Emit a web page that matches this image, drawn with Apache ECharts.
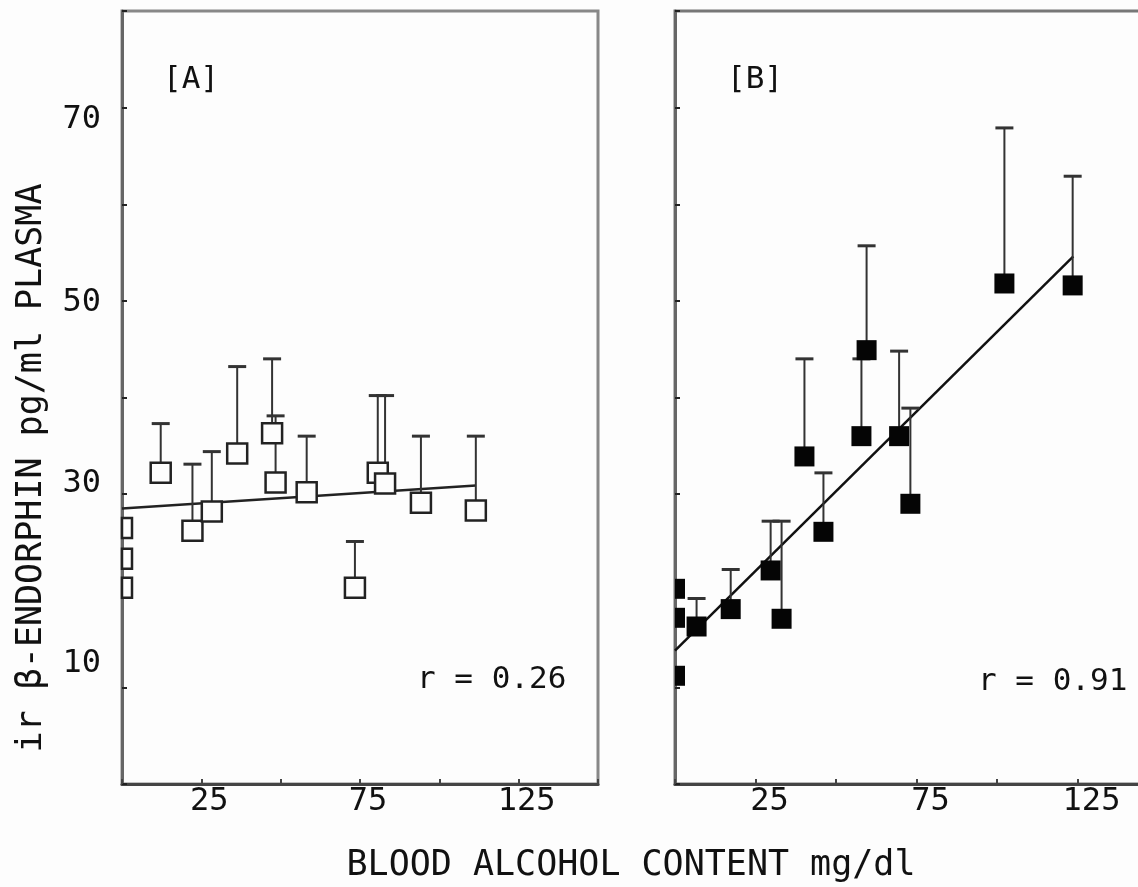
<!DOCTYPE html>
<html>
<head>
<meta charset="utf-8">
<script src="https://cdn.jsdelivr.net/npm/echarts@6/dist/echarts.min.js"></script>
<style>
  html, body { margin: 0; padding: 0; background: #fdfdfd; }
  #chart { width: 1138px; height: 887px; }
</style>
</head>
<body>
<div id="chart"></div>
<script>
// panel A: open squares
const aBAC   = [0, 0, 0, 12.2, 22.2, 28.3, 36.3, 47.3, 48.4, 58.2, 73.4, 80.6, 82.9, 94.2, 111.5];
const aMean  = [26.5, 23.3, 20.3, 32.2, 26.2, 28.2, 34.2, 36.3, 31.2, 30.2, 20.3, 32.2, 31.1, 29.1, 28.3];
const aUpper = [null, null, null, 37.3, 33.1, 34.4, 43.2, 44.0, 38.1, 36.0, 25.1, 40.2, 40.2, 36.0, 36.0];
const aFitX  = [0, 111.5];
const aFitY  = [28.5, 30.9];

// panel B: filled squares
const bBAC   = [0, 0, 0, 6.7, 17.3, 29.7, 33.1, 40.2, 46.1, 57.9, 59.5, 69.6, 73.1, 102.3, 123.5];
const bMean  = [20.2, 17.2, 11.2, 16.3, 18.1, 22.1, 17.1, 33.9, 26.1, 36.0, 44.9, 36.0, 29.0, 51.8, 51.6];
const bUpper = [null, null, null, 19.2, 22.2, 27.2, 27.2, 44.0, 32.2, 44.0, 55.7, 44.8, 38.9, 67.9, 62.9];
const bFitX  = [0, 123.7];
const bFitY  = [13.8, 54.6];

const yTickLabels = [10, 30, 50, 70];
const xTickLabels = [25, 75, 125];

const FONT = '"DejaVu Sans Mono", "Liberation Mono", monospace';
const INK = '#111';

// scanned labels sit a bit off their ticks
const yLabelShift = {
  s70: { padding: [24, 0, 0, 0] },
  s50: { padding: [4, 0, 0, 0] },
  s30: { padding: [0, 0, 20, 0] },
  s10: { padding: [0, 0, 48, 0] }
};

function zip(xs, ys) {
  return xs.map((x, i) => [x, ys[i]]);
}

function barRows(xs, ys, hs) {
  const rows = [];
  xs.forEach((x, i) => {
    if (hs[i] != null) rows.push([x, ys[i], hs[i]]);
  });
  return rows;
}

function renderErrorBar(params, api) {
  const x = api.value(0);
  const lo = api.coord([x, api.value(1)]);
  const hi = api.coord([x, api.value(2)]);
  const style = { stroke: '#333', lineWidth: 2 };
  return {
    type: 'group',
    children: [
      { type: 'line', shape: { x1: lo[0], y1: lo[1], x2: hi[0], y2: hi[1] }, style },
      { type: 'line', shape: { x1: hi[0] - 9, y1: hi[1], x2: hi[0] + 9, y2: hi[1] }, style: { stroke: '#333', lineWidth: 3 } }
    ]
  };
}

function squareRenderer(filled) {
  return function (params, api) {
    const c = api.coord([api.value(0), api.value(1)]);
    const s = 20;
    const cs = params.coordSys;
    const rect = echarts.graphic.clipRectByRect(
      { x: c[0] - s / 2, y: c[1] - s / 2, width: s, height: s },
      { x: cs.x, y: cs.y, width: cs.width, height: cs.height }
    );
    if (!rect) return;
    return {
      type: 'rect',
      shape: rect,
      style: filled
        ? { fill: '#050505' }
        : { fill: '#fdfdfd', stroke: '#222', lineWidth: 2.5 }
    };
  };
}

function xAxisOf(gridIndex, shift) {
  return {
    type: 'value',
    gridIndex,
    min: 0,
    max: 150,
    interval: 25,
    splitLine: { show: false },
    axisLine: { show: true, lineStyle: { color: '#444', width: 3 } },
    axisTick: { show: true, inside: true, length: 5, lineStyle: { color: '#444', width: 2 } },
    axisLabel: {
      margin: 2,
      padding: [0, 0, 0, shift],
      color: INK,
      fontFamily: FONT,
      fontSize: 32,
      formatter: (v) => (xTickLabels.includes(v) ? String(v) : '')
    }
  };
}

function yAxisOf(gridIndex, withLabels) {
  return {
    type: 'value',
    gridIndex,
    min: 0,
    max: 80,
    interval: 10,
    splitLine: { show: false },
    axisLine: { show: true, lineStyle: { color: '#666', width: 3 } },
    axisTick: { show: true, inside: true, length: 5, lineStyle: { color: '#222', width: 2 } },
    axisLabel: {
      show: withLabels,
      margin: 21,
      color: INK,
      fontFamily: FONT,
      fontSize: 32,
      formatter: (v) => (yTickLabels.includes(v) ? '{s' + v + '|' + v + '}' : ''),
      rich: yLabelShift
    }
  };
}

function textEl(text, x, y, size, align, extra) {
  return Object.assign({
    type: 'text',
    x, y,
    style: {
      text,
      fill: INK,
      font: size + 'px ' + FONT,
      textAlign: align,
      textVerticalAlign: 'middle'
    }
  }, extra || {});
}

const chart = echarts.init(document.getElementById('chart'), null, { renderer: 'canvas' });

chart.setOption({
  backgroundColor: '#fdfdfd',
  animation: false,
  grid: [
    { left: 122, top: 11, width: 476, height: 773, outerBoundsMode: 'none', show: true, borderColor: '#888', borderWidth: 3, backgroundColor: 'transparent' },
    // right side of panel B runs off the page in the scan
    { left: 675, top: 11, width: 483, height: 773, outerBoundsMode: 'none', show: true, borderColor: '#777', borderWidth: 3, backgroundColor: 'transparent' }
  ],
  xAxis: [xAxisOf(0, 16), xAxisOf(1, 28)],
  yAxis: [yAxisOf(0, true), yAxisOf(1, false)],
  graphic: [
    textEl('[A]', 163, 80, 31, 'left'),
    textEl('[B]', 727, 80, 31, 'left'),
    textEl('r = 0.26', 417, 680, 31, 'left'),
    textEl('r = 0.91', 978, 682, 31, 'left'),
    textEl('BLOOD ALCOHOL CONTENT mg/dl', 631, 866, 35, 'center'),
    textEl('ir β-ENDORPHIN pg/ml PLASMA', 32, 468, 35, 'center', { rotation: Math.PI / 2 })
  ],
  series: [
    {
      type: 'line', xAxisIndex: 0, yAxisIndex: 0,
      data: zip(aFitX, aFitY), showSymbol: false, symbol: 'none',
      lineStyle: { color: '#222', width: 2.5 }, z: 1
    },
    {
      type: 'custom', xAxisIndex: 0, yAxisIndex: 0,
      data: barRows(aBAC, aMean, aUpper), renderItem: renderErrorBar, z: 2
    },
    {
      type: 'custom', xAxisIndex: 0, yAxisIndex: 0,
      data: zip(aBAC, aMean), renderItem: squareRenderer(false), z: 3
    },
    {
      type: 'line', xAxisIndex: 1, yAxisIndex: 1,
      data: zip(bFitX, bFitY), showSymbol: false, symbol: 'none',
      lineStyle: { color: '#111', width: 2.5 }, z: 1
    },
    {
      type: 'custom', xAxisIndex: 1, yAxisIndex: 1,
      data: barRows(bBAC, bMean, bUpper), renderItem: renderErrorBar, z: 2
    },
    {
      type: 'custom', xAxisIndex: 1, yAxisIndex: 1,
      data: zip(bBAC, bMean), renderItem: squareRenderer(true), z: 3
    }
  ]
});
</script>
</body>
</html>
